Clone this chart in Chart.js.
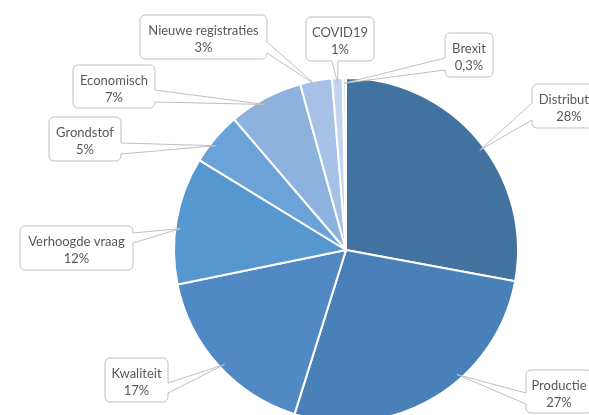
<!DOCTYPE html>
<html>
<head>
<meta charset="utf-8">
<script src="https://cdn.jsdelivr.net/npm/chart.js@4/dist/chart.umd.min.js"></script>
<style>
  html, body { margin: 0; padding: 0; background: #ffffff; overflow: hidden; }
  #wrap { width: 589px; height: 415px; position: relative; }
</style>
</head>
<body>
<div id="wrap"><canvas id="c" width="589" height="415"></canvas></div>
<script>
// ---- data ----
const categories = ['Distributie', 'Productie', 'Kwaliteit', 'Verhoogde vraag', 'Grondstof', 'Economisch', 'Nieuwe registraties', 'COVID19', 'Brexit'];
const values = [28, 27, 17, 12, 5, 7, 3, 1, 0.3];
const sliceColors = ['#4272A0', '#4A80B8', '#5089C4', '#5797CF', '#6BA2D7', '#8EB2DE', '#A7C1E6', '#C3D5EE', '#DCE6F4'];

// ---- callout layout (positions of the label boxes, in canvas pixels) ----
const calloutLayout = [
  { x: 532, y: 84,  w: 74,  h: 44, side: 'left',   b1: 103, b2: 120, frac: 0.53 },
  { x: 526, y: 370, w: 66,  h: 43, side: 'left',   b1: 393, b2: 404, frac: 0.39 },
  { x: 105, y: 358, w: 63,  h: 44, side: 'right',  b1: 383, b2: 393, frac: 0.48 },
  { x: 20,  y: 226, w: 113, h: 44, side: 'right',  b1: 233, b2: 243, frac: 0.44 },
  { x: 49,  y: 117, w: 72,  h: 44, side: 'right',  b1: 143, b2: 154, frac: 0.4 },
  { x: 73,  y: 65,  w: 82,  h: 43, side: 'right',  b1: 90,  b2: 102, frac: 0.45 },
  { x: 140, y: 15,  w: 127, h: 44, side: 'right',  b1: 42,  b2: 53,  frac: 0.5 },
  { x: 306, y: 17,  w: 68,  h: 44, side: 'bottom', b1: 332, b2: 338, frac: 0.5 },
  { x: 445, y: 33,  w: 48,  h: 44, side: 'left',   b1: 58,  b2: 70,  frac: 0.5 }
];

const fmtPct = v => String(v).replace('.', ',') + '%';

function calloutPath(ctx, b, tip) {
  const { x, y, w, h, side, b1, b2 } = b;
  const r = 5;
  ctx.beginPath();
  ctx.moveTo(x + r, y);
  if (side === 'top') { ctx.lineTo(b1, y); ctx.lineTo(tip.x, tip.y); ctx.lineTo(b2, y); }
  ctx.lineTo(x + w - r, y);
  ctx.arcTo(x + w, y, x + w, y + r, r);
  if (side === 'right') { ctx.lineTo(x + w, b1); ctx.lineTo(tip.x, tip.y); ctx.lineTo(x + w, b2); }
  ctx.lineTo(x + w, y + h - r);
  ctx.arcTo(x + w, y + h, x + w - r, y + h, r);
  if (side === 'bottom') { ctx.lineTo(b2, y + h); ctx.lineTo(tip.x, tip.y); ctx.lineTo(b1, y + h); }
  ctx.lineTo(x + r, y + h);
  ctx.arcTo(x, y + h, x, y + h - r, r);
  if (side === 'left') { ctx.lineTo(x, b2); ctx.lineTo(tip.x, tip.y); ctx.lineTo(x, b1); }
  ctx.lineTo(x, y + r);
  ctx.arcTo(x, y, x + r, y, r);
  ctx.closePath();
}

const calloutPlugin = {
  id: 'callouts',
  afterDatasetsDraw(chart) {
    const ctx = chart.ctx;
    const meta = chart.getDatasetMeta(0);
    meta.data.forEach((arc, i) => {
      const b = calloutLayout[i];
      if (!b) return;
      const p = arc.getProps(['x', 'y', 'startAngle', 'endAngle', 'outerRadius'], true);
      const a = p.startAngle + b.frac * (p.endAngle - p.startAngle);
      const rr = p.outerRadius * 0.97;
      const tip = { x: p.x + Math.cos(a) * rr, y: p.y + Math.sin(a) * rr };
      ctx.save();
      calloutPath(ctx, b, tip);
      ctx.fillStyle = '#ffffff';
      ctx.fill();
      ctx.lineWidth = 1;
      ctx.strokeStyle = '#BFBFBF';
      ctx.stroke();
      ctx.fillStyle = '#595959';
      ctx.font = '13px Lato, "Noto Sans", sans-serif';
      ctx.textAlign = 'center';
      ctx.textBaseline = 'middle';
      const cx = b.x + b.w / 2;
      ctx.fillText(chart.data.labels[i], cx, b.y + 15.5);
      ctx.fillText(fmtPct(chart.data.datasets[0].data[i]), cx, b.y + 32.5);
      ctx.restore();
    });
  }
};

new Chart(document.getElementById('c'), {
  type: 'pie',
  data: {
    labels: categories,
    datasets: [{
      data: values,
      backgroundColor: sliceColors,
      borderColor: '#ffffff',
      borderWidth: 2,
      clip: false
    }]
  },
  options: {
    responsive: false,
    animation: false,
    radius: 172,
    layout: { padding: { left: 174, right: 71, top: 85, bottom: 0 } },
    plugins: {
      legend: { display: false },
      tooltip: { enabled: false },
      title: { display: false }
    }
  },
  plugins: [calloutPlugin]
});
</script>
</body>
</html>
